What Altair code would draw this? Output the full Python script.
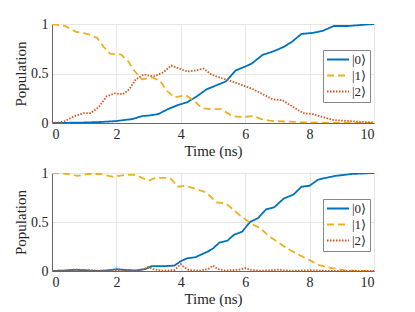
import altair as alt
import pandas as pd

STATES = ["|0⟩", "|1⟩", "|2⟩"]
COLORS = ["#0072BD", "#EDB120", "#D95319"]
DASHES = [[1, 0], [7, 4], [1.5, 1.5]]

# ---- Top panel ----
a0_t = [0, 0.5, 1.0, 1.5, 2.0, 2.5, 2.8, 3.0, 3.3, 3.6, 3.9, 4.2, 4.5, 4.8, 5.1, 5.4, 5.7, 6.0, 6.2, 6.55, 6.75, 7.0, 7.2, 7.45, 7.75, 8.1, 8.4, 8.75, 9.2, 9.6, 10]
a0_v = [0, 0.002, 0.005, 0.01, 0.02, 0.04, 0.07, 0.075, 0.09, 0.14, 0.18, 0.21, 0.27, 0.34, 0.38, 0.42, 0.53, 0.57, 0.6, 0.69, 0.71, 0.74, 0.77, 0.82, 0.9, 0.91, 0.93, 0.98, 0.98, 0.99, 1.0]

a1_t = [0, 0.4, 0.75, 1.1, 1.4, 1.6, 1.8, 2.15, 2.35, 2.55, 2.8, 3.1, 3.35, 3.55, 3.8, 4.15, 4.4, 4.65, 4.95, 5.25, 5.4, 5.6, 5.9, 6.25, 6.5, 6.85, 7.4, 8.1, 8.6, 10]
a1_v = [1, 0.98, 0.92, 0.9, 0.86, 0.77, 0.7, 0.69, 0.63, 0.53, 0.44, 0.46, 0.43, 0.33, 0.26, 0.28, 0.23, 0.15, 0.14, 0.14, 0.11, 0.07, 0.06, 0.07, 0.04, 0.02, 0.013, 0.005, 0.002, 0]

a2_t = [0, 0.2, 0.4, 0.7, 1.0, 1.2, 1.45, 1.7, 1.95, 2.2, 2.4, 2.6, 2.85, 3.15, 3.45, 3.7, 3.95, 4.2, 4.45, 4.7, 4.95, 5.2, 5.5, 5.85, 6.25, 6.55, 6.85, 7.15, 7.5, 7.8, 8.1, 8.4, 8.75, 9.2, 9.7, 10]
a2_v = [0, 0.005, 0.02, 0.07, 0.1, 0.1, 0.16, 0.27, 0.3, 0.29, 0.34, 0.44, 0.49, 0.47, 0.51, 0.58, 0.55, 0.52, 0.53, 0.55, 0.49, 0.46, 0.43, 0.39, 0.34, 0.29, 0.24, 0.23, 0.16, 0.1, 0.09, 0.06, 0.03, 0.02, 0.01, 0.005]

# ---- Bottom panel ----
b0_t = [0, 0.4, 0.7, 1.0, 1.4, 1.7, 2.0, 2.3, 2.6, 2.9, 3.1, 3.5, 3.8, 4.0, 4.2, 4.45, 4.65, 4.85, 5.0, 5.2, 5.45, 5.65, 5.9, 6.15, 6.4, 6.65, 6.9, 7.2, 7.5, 7.75, 8.0, 8.25, 8.5, 8.8, 9.3, 10]
b0_v = [0, 0.005, 0.012, 0.008, 0.0, 0.005, 0.018, 0.01, 0.005, 0.02, 0.05, 0.05, 0.055, 0.1, 0.13, 0.14, 0.17, 0.2, 0.23, 0.29, 0.31, 0.37, 0.4, 0.5, 0.54, 0.63, 0.65, 0.74, 0.78, 0.86, 0.87, 0.93, 0.95, 0.97, 0.99, 1.0]

b1_t = [0, 0.5, 0.8, 1.1, 1.5, 1.9, 2.25, 2.6, 3.0, 3.2, 3.5, 3.7, 3.9, 4.15, 4.45, 4.8, 5.1, 5.4, 5.65, 5.9, 6.2, 6.5, 6.75, 7.0, 7.3, 7.7, 8.0, 8.3, 8.7, 9.1, 9.5, 10]
b1_v = [1, 0.99, 0.97, 0.99, 0.99, 0.96, 0.98, 0.98, 0.92, 0.95, 0.95, 0.94, 0.86, 0.87, 0.84, 0.8, 0.7, 0.69, 0.62, 0.55, 0.48, 0.43, 0.35, 0.3, 0.23, 0.16, 0.11, 0.06, 0.03, 0.007, 0.002, 0]

b2_t = [0, 0.4, 0.7, 1.0, 1.5, 2.0, 2.3, 2.7, 2.85, 3.0, 3.15, 3.4, 3.8, 3.9, 4.0, 4.1, 4.25, 4.6, 4.85, 5.0, 5.15, 5.4, 5.85, 6.0, 6.15, 6.5, 6.9, 7.05, 7.2, 7.6, 8.0, 8.5, 10]
b2_v = [0, 0.005, 0.015, 0.01, 0.003, 0.01, 0.003, 0.003, 0.02, 0.04, 0.02, 0.003, 0.01, 0.04, 0.07, 0.04, 0.01, 0.003, 0.02, 0.055, 0.02, 0.003, 0.015, 0.03, 0.012, 0.003, 0.01, 0.015, 0.006, 0.003, 0.008, 0.002, 0]


def frame(series):
    rows = []
    for state, ts, vs in series:
        for i, (t, v) in enumerate(zip(ts, vs)):
            rows.append({"t": t, "v": v, "state": state, "i": i})
    return pd.DataFrame(rows)


top_df = frame([(STATES[0], a0_t, a0_v), (STATES[1], a1_t, a1_v), (STATES[2], a2_t, a2_v)])
bot_df = frame([(STATES[0], b0_t, b0_v), (STATES[1], b1_t, b1_v), (STATES[2], b2_t, b2_v)])

FONT = "Liberation Serif"


def legend():
    return alt.Legend(title=None, orient="none", legendX=271, legendY=26,
                      symbolType="M-1,0H3", symbolSize=121, symbolStrokeWidth=1.8,
                      labelFont=FONT, labelFontSize=13, labelColor="#262626",
                      padding=3, rowPadding=2, labelOffset=13,
                      strokeColor="#888888", fillColor="white")


def panel(df, h):
    return alt.Chart(df).mark_line(strokeWidth=1.8, clip=True).encode(
        x=alt.X("t:Q", title="Time (ns)",
                scale=alt.Scale(domain=[0, 10], nice=False),
                axis=alt.Axis(values=[0, 2, 4, 6, 8, 10], labelFont=FONT, titleFont=FONT)),
        y=alt.Y("v:Q", title="Population",
                scale=alt.Scale(domain=[0, 1], nice=False),
                axis=alt.Axis(values=[0, 0.5, 1], format="~g", labelFont=FONT, titleFont=FONT)),
        color=alt.Color("state:N", scale=alt.Scale(domain=STATES, range=COLORS), legend=legend()),
        strokeDash=alt.StrokeDash("state:N", scale=alt.Scale(domain=STATES, range=DASHES), legend=legend()),
        order="i:Q",
    ).properties(width=322, height=h)


chart = alt.vconcat(panel(top_df, 99), panel(bot_df, 98), spacing=6).resolve_legend(
    color="independent", strokeDash="independent"
).properties(
    padding={"left": 5, "top": 8, "right": 5, "bottom": 0}
).configure_view(
    stroke="#666666", strokeWidth=1
).configure_axis(
    labelFont=FONT, labelFontSize=14, labelColor="#262626",
    titleFont=FONT, titleFontSize=15, titleFontWeight="normal", titleColor="#262626",
    domainColor="#666666", gridColor="#e6e6e6", ticks=False,
    labelPadding=4, titlePadding=2,
)

chart.save("out.html", embed_options={"renderer": "svg", "actions": False})
